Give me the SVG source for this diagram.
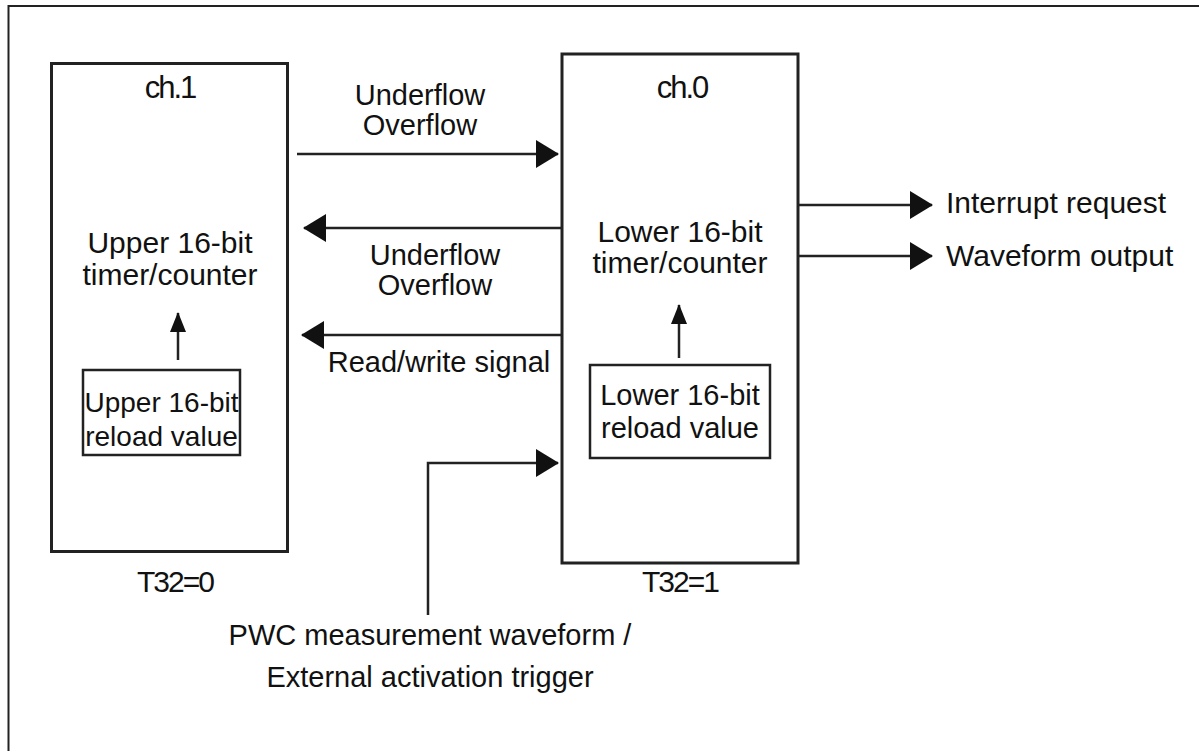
<svg xmlns="http://www.w3.org/2000/svg" width="1199" height="751" viewBox="0 0 1199 751">
<defs>
<style>
text{font-family:"Liberation Sans",Arial,sans-serif;font-size:29px;fill:#111;}
.mid{text-anchor:middle;}
.box{fill:#fff;stroke:#222;stroke-width:3;}
.sub{fill:#fff;stroke:#222;stroke-width:2.5;}
.wire{fill:none;stroke:#222;stroke-width:2.5;}
.tight{font-size:30px;letter-spacing:-2px;}
.ch{font-size:31px;letter-spacing:-2px;}
.big{font-size:30px;}
.side{font-size:30px;}
</style>
<marker id="ah" markerUnits="userSpaceOnUse" markerWidth="24" markerHeight="28" refX="22" refY="14" orient="auto">
<path d="M0,0 L23,14 L0,28 Z" fill="#111"/>
</marker>
<marker id="ahs" markerUnits="userSpaceOnUse" markerWidth="20" markerHeight="16" refX="19" refY="8" orient="auto">
<path d="M0,0 L20,8 L0,16 Z" fill="#111"/>
</marker>
</defs>
<rect x="8.5" y="6" width="1200" height="770" fill="#fff" stroke="#222" stroke-width="2"/>
<g id="ch1">
<rect class="box" x="51.5" y="63.5" width="236" height="488"/>
<text class="mid ch" x="170" y="98">ch.1</text>
<text class="mid big" x="170" y="253">Upper 16-bit</text>
<text class="mid big" x="170" y="285">timer/counter</text>
</g>
<g id="reload1">
<rect class="sub" x="83" y="370" width="157" height="85"/>
<text class="mid" x="161.5" y="412" style="font-size:28px">Upper 16-bit</text>
<text class="mid" x="161.5" y="446" style="font-size:28px">reload value</text>
</g>
<g id="ch0">
<rect class="box" x="562" y="54" width="236" height="509"/>
<text class="mid ch" x="682" y="98">ch.0</text>
<text class="mid side" x="680" y="242">Lower 16-bit</text>
<text class="mid side" x="680" y="273">timer/counter</text>
</g>
<g id="reload0">
<rect class="sub" x="590" y="365" width="180" height="93"/>
<text class="mid" x="680" y="405">Lower 16-bit</text>
<text class="mid" x="680" y="438">reload value</text>
</g>
<g id="t32_0"><text class="mid tight" x="175" y="592">T32=0</text></g>
<g id="t32_1"><text class="mid tight" x="680" y="592">T32=1</text></g>
<g id="connectors">
<line class="wire" x1="297" y1="154" x2="558" y2="154" marker-end="url(#ah)"/>
<line class="wire" x1="562" y1="228" x2="304" y2="228" marker-end="url(#ah)"/>
<line class="wire" x1="562" y1="335" x2="302" y2="335" marker-end="url(#ah)"/>
<line class="wire" x1="178" y1="360" x2="178" y2="313" marker-end="url(#ahs)"/>
<line class="wire" x1="679" y1="358" x2="679" y2="305" marker-end="url(#ahs)"/>
<line class="wire" x1="798" y1="205" x2="932" y2="205" marker-end="url(#ah)"/>
<line class="wire" x1="798" y1="256" x2="932" y2="256" marker-end="url(#ah)"/>
<polyline class="wire" points="428,615 428,463 558,463" marker-end="url(#ah)"/>
</g>
<g id="labels">
<text class="mid" x="420" y="105">Underflow</text>
<text class="mid" x="420" y="135">Overflow</text>
<text class="mid" x="435" y="265">Underflow</text>
<text class="mid" x="435" y="295">Overflow</text>
<text class="mid" x="439" y="372">Read/write signal</text>
<text class="side" x="946" y="213">Interrupt request</text>
<text class="side" x="946" y="266">Waveform output</text>
<text class="mid" x="430" y="645">PWC measurement waveform /</text>
<text class="mid" x="430" y="687">External activation trigger</text>
</g>
</svg>
